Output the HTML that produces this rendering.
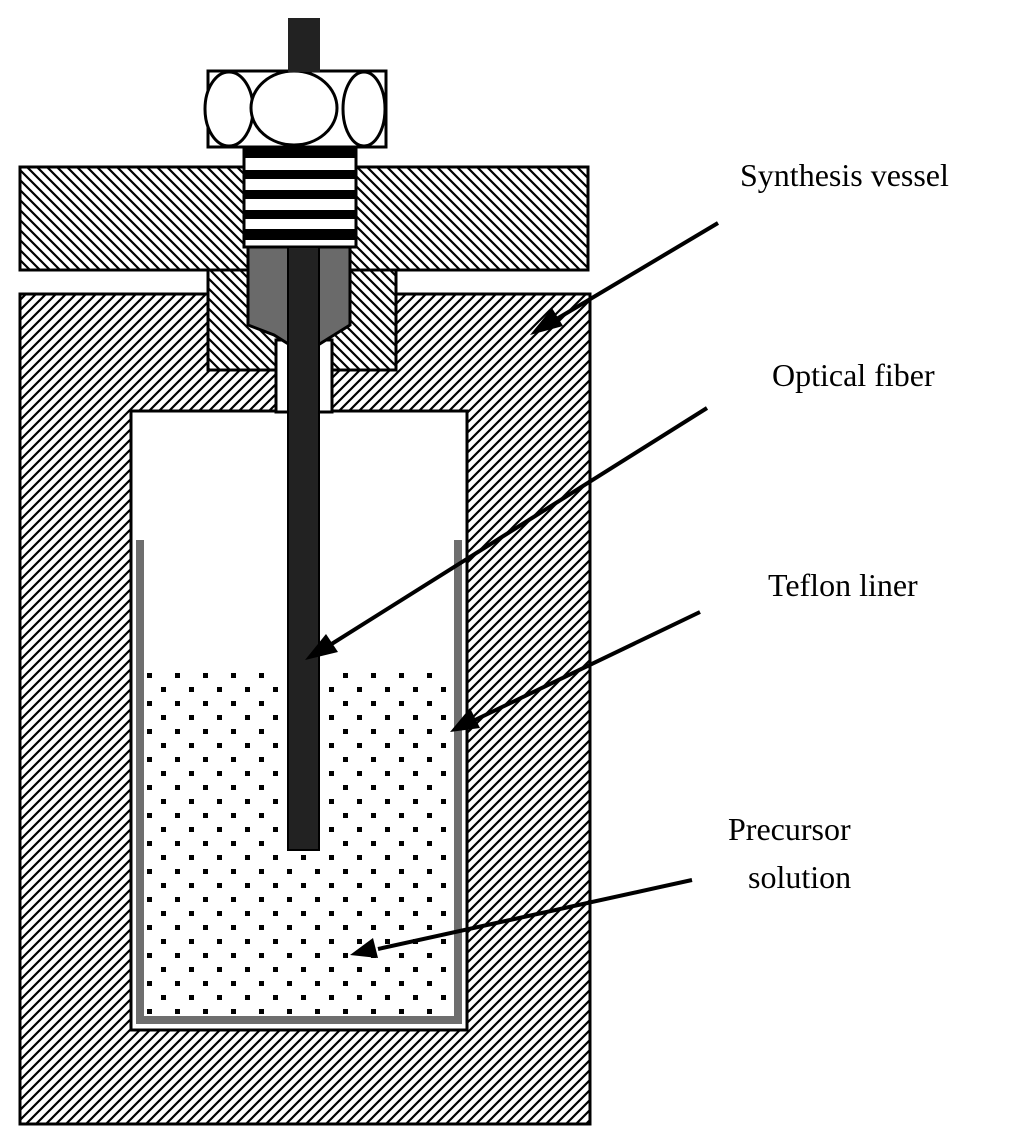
<!DOCTYPE html>
<html><head><meta charset="utf-8"><style>html,body{margin:0;padding:0;background:#fff;}svg{display:block}</style></head>
<body>
<svg width="1024" height="1144" viewBox="0 0 1024 1144" xmlns="http://www.w3.org/2000/svg">
<defs>
<pattern id="hb" width="10" height="10" patternUnits="userSpaceOnUse">
<path d="M-1,11 L11,-1 M-6,6 L6,-6 M4,16 L16,4" stroke="#000" stroke-width="2.2"/>
</pattern>
<pattern id="hf" width="10" height="10" patternUnits="userSpaceOnUse">
<path d="M-1,-1 L11,11 M-6,4 L6,16 M4,-6 L16,6" stroke="#000" stroke-width="2.2"/>
</pattern>
<pattern id="dots" x="146" y="672" width="28" height="28" patternUnits="userSpaceOnUse">
<rect x="1" y="1" width="5" height="5" fill="#000"/>
<rect x="15" y="15" width="5" height="5" fill="#000"/>
</pattern>
</defs>
<!-- body -->
<rect x="20" y="294" width="570" height="830" fill="url(#hb)" stroke="#000" stroke-width="3"/>
<!-- top plate -->
<rect x="20" y="167" width="568" height="103" fill="url(#hf)" stroke="#000" stroke-width="3"/>
<!-- collar -->
<rect x="208" y="270" width="188" height="100" fill="#fff"/>
<rect x="208" y="270" width="188" height="100" fill="url(#hf)" stroke="#000" stroke-width="3"/>
<!-- cavity -->
<rect x="131" y="411" width="336" height="619" fill="#fff" stroke="#000" stroke-width="3"/>
<!-- channel -->
<rect x="276" y="340" width="56" height="72" fill="#fff" stroke="#000" stroke-width="3"/>
<!-- liner -->
<path d="M140,540 L140,1020 L458,1020 L458,540" fill="none" stroke="#6e6e6e" stroke-width="8"/>
<rect x="146" y="672" width="306" height="344" fill="url(#dots)"/>
<!-- ferrule -->
<path d="M248,247 L350,247 L350,325 L334,335 L318,345 L290,345 L274,335 L248,325 Z" fill="#6a6a6a" stroke="#000" stroke-width="3"/>
<!-- threads -->
<rect x="244" y="147" width="112" height="100" fill="#fff" stroke="#000" stroke-width="3"/>
<g fill="#000">
<rect x="244" y="147" width="112" height="11"/>
<rect x="244" y="170" width="112" height="9"/>
<rect x="244" y="190" width="112" height="9"/>
<rect x="244" y="210" width="112" height="9"/>
<rect x="244" y="229" width="112" height="11"/>
</g>
<!-- nut -->
<rect x="208" y="71" width="178" height="76" fill="#fff" stroke="#000" stroke-width="3"/>
<ellipse cx="229" cy="109" rx="24" ry="37" fill="#fff" stroke="#000" stroke-width="3"/>
<ellipse cx="294" cy="108" rx="43" ry="37" fill="#fff" stroke="#000" stroke-width="3"/>
<ellipse cx="364" cy="109" rx="21" ry="37" fill="#fff" stroke="#000" stroke-width="3"/>
<!-- fiber -->
<rect x="288" y="18" width="32" height="54" fill="#222"/>
<rect x="288" y="247" width="31" height="603" fill="#222" stroke="#000" stroke-width="2"/>
<!-- arrows -->
<g stroke="#000" stroke-width="4" fill="none">
<line x1="718" y1="223" x2="555" y2="320"/>
<line x1="707" y1="408" x2="330" y2="645"/>
<line x1="700" y1="612" x2="475" y2="720"/>
<line x1="692" y1="880" x2="378" y2="949"/>
</g>
<g fill="#000">
<polygon points="530,335 552,308 563,326"/>
<polygon points="305,660 326,634 338,652"/>
<polygon points="450,732 470,708 480,728"/>
<polygon points="350,955 373,938 378,958"/>
</g>
<g font-family="Liberation Serif, serif" font-size="32" fill="#000">
<text x="740" y="186">Synthesis vessel</text>
<text x="772" y="386">Optical fiber</text>
<text x="768" y="596">Teflon liner</text>
<text x="728" y="840">Precursor</text>
<text x="748" y="888">solution</text>
</g>
</svg>
</body></html>
